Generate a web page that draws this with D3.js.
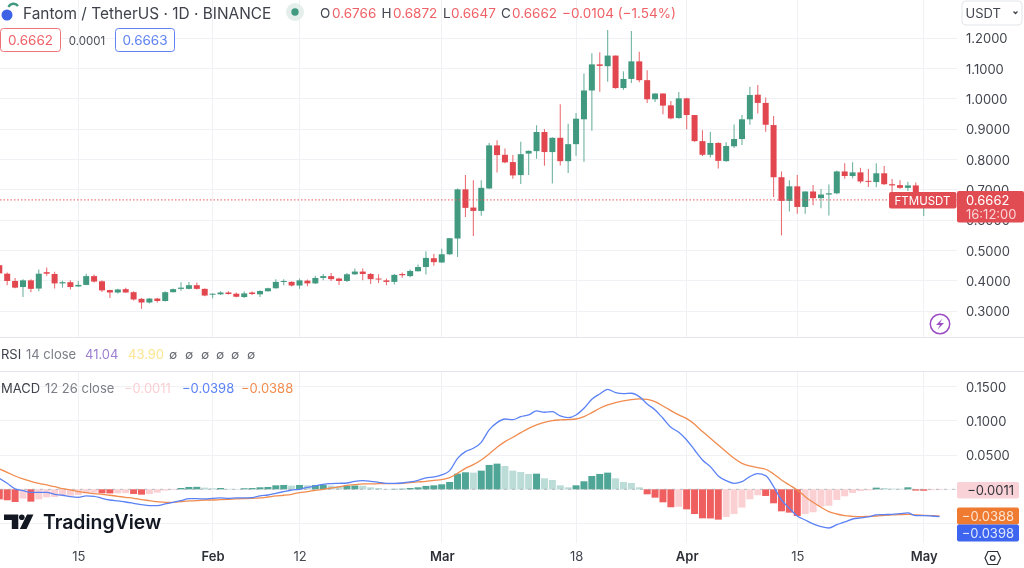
<!DOCTYPE html>
<html>
<head>
<meta charset="utf-8">
<script src="https://cdn.jsdelivr.net/npm/d3@7"></script>
<style>
  html, body { margin: 0; padding: 0; background: #fff; overflow: hidden; }
  svg { display: block; font-family: Inter, "Liberation Sans", sans-serif; filter: blur(0.35px); }
</style>
</head>
<body>
<div id="chart"></div>
<script>
const WIDTH = 1024, HEIGHT = 568;

// one candle per day, 5 Jan to 3 May 2024
const days = d3.utcDay.range(new Date(Date.UTC(2024, 0, 5)), new Date(Date.UTC(2024, 4, 4)));

const opens = [
  .451,.423,.399,.379,.401,.374,.428,.422,.391,.395,
  .381,.386,.415,.398,.369,.361,.372,.362,.340,.328,
  .341,.333,.362,.373,.373,.385,.373,.355,.355,.361,
  .357,.346,.361,.355,.365,.375,.396,.396,.384,.400,
  .391,.409,.415,.407,.399,.421,.430,.422,.407,.401,
  .396,.422,.415,.431,.445,.474,.460,.487,.539,.701,
  .641,.630,.704,.846,.815,.791,.748,.819,.827,.890,
  .824,.871,.794,.850,.932,1.027,1.113,1.107,1.142,1.035,
  1.065,1.123,1.061,.998,1.017,.978,.936,1.001,.946,.860,
  .815,.854,.794,.843,.867,.932,1.013,.986,.913,.741,
  .663,.711,.643,.694,.672,.684,.688,.760,.745,.757,
  .729,.725,.754,.718,.715,.706,.714,.662,.672,.6766
];
const highs = [
  .457,.427,.409,.405,.405,.437,.443,.429,.400,.401,
  .399,.423,.420,.401,.370,.373,.377,.365,.343,.343,
  .343,.365,.374,.395,.396,.394,.374,.358,.365,.365,
  .361,.364,.364,.368,.377,.405,.405,.398,.407,.404,
  .416,.422,.425,.410,.425,.440,.440,.425,.421,.407,
  .422,.427,.437,.453,.497,.489,.505,.541,.704,.748,
  .731,.731,.854,.863,.836,.814,.858,.829,.912,.900,
  .873,.982,.917,.953,1.083,1.150,1.153,1.226,1.142,1.090,
  1.223,1.155,1.094,1.018,1.018,.992,1.022,1.003,.946,.896,
  .891,.856,.856,.915,.946,1.039,1.045,1.004,.943,.760,
  .731,.748,.695,.715,.702,.717,.763,.787,.790,.772,
  .768,.787,.778,.735,.731,.726,.724,.687,.685,.6872
];
const lows = [
  .418,.385,.375,.346,.362,.365,.416,.374,.377,.371,
  .379,.385,.394,.363,.343,.358,.360,.335,.307,.325,
  .328,.331,.361,.367,.372,.371,.349,.342,.353,.354,
  .345,.343,.353,.346,.364,.373,.385,.381,.373,.382,
  .389,.401,.399,.386,.396,.419,.401,.389,.392,.385,
  .387,.410,.411,.430,.420,.449,.458,.485,.478,.610,
  .547,.614,.702,.757,.787,.736,.719,.748,.802,.779,
  .720,.780,.755,.812,.792,.894,1.023,1.056,1.033,1.029,
  1.052,1.054,.986,.989,.949,.932,.934,.899,.858,.811,
  .806,.770,.792,.837,.847,.914,.951,.891,.676,.549,
  .628,.621,.621,.649,.639,.615,.685,.736,.738,.721,
  .709,.708,.715,.687,.703,.696,.639,.613,.665,.6647
];
const closes = [
  .424,.399,.377,.401,.373,.423,.423,.391,.395,.379,
  .386,.415,.397,.368,.361,.371,.361,.338,.328,.341,
  .333,.362,.372,.377,.385,.373,.351,.357,.361,.356,
  .347,.358,.356,.366,.375,.396,.399,.384,.401,.391,
  .409,.415,.405,.399,.421,.430,.422,.405,.405,.396,
  .419,.418,.432,.445,.475,.461,.487,.540,.701,.640,
  .630,.706,.846,.814,.790,.747,.817,.828,.890,.824,
  .871,.794,.850,.934,1.027,1.113,1.108,1.142,1.035,1.065,
  1.123,1.061,.998,1.017,.977,.935,1.001,.946,.860,.815,
  .854,.795,.844,.867,.932,1.012,.986,.914,.741,.663,
  .711,.643,.694,.672,.684,.688,.760,.745,.757,.727,
  .726,.754,.718,.714,.706,.714,.672,.679,.677,.6662
];

const histValues = [
  -.0146,-.0160,-.0185,-.0136,-.0180,-.0146,-.0117,-.0112,-.0098,-.0092,
  -.0083,-.0058,-.0049,-.0058,-.0060,-.0058,-.0056,-.0068,-.0078,-.0068,
  -.0049,-.0019,-.0010,.0019,.0034,.0036,.0024,.0015,.0019,.0007,
  .0005,.0015,.0018,.0029,.0034,.0058,.0063,.0053,.0063,.0058,
  .0063,.0065,.0053,.0045,.0049,.0055,.0052,.0029,.0019,.0005,
  .0007,.0009,.0019,.0029,.0049,.0058,.0073,.0107,.0228,.0248,
  .0243,.0272,.0355,.0374,.0340,.0272,.0253,.0224,.0228,.0160,
  .0136,.0058,.0029,.0058,.0117,.0194,.0224,.0243,.0160,.0107,
  .0092,.0029,-.0073,-.0122,-.0190,-.0262,-.0255,-.0292,-.0360,-.0423,
  -.0425,-.0442,-.0403,-.0360,-.0267,-.0146,-.0087,-.0097,-.0204,-.0321,
  -.0340,-.0389,-.0360,-.0335,-.0253,-.0240,-.0155,-.0102,-.0053,-.0024,
  -.0015,.0024,.0019,.0010,.0008,.0029,-.0019,-.0021,-.0013,-.0011
];
const macdValues = [
  .0160,.0087,.0005,-.0019,-.0044,-.0044,-.0044,-.0073,-.0087,-.0107,
  -.0117,-.0097,-.0102,-.0131,-.0156,-.0170,-.0185,-.0204,-.0224,-.0238,
  -.0238,-.0214,-.0190,-.0165,-.0136,-.0136,-.0141,-.0131,-.0126,-.0131,
  -.0126,-.0126,-.0122,-.0097,-.0083,-.0058,-.0034,-.0010,0,.0029,
  .0049,.0073,.0083,.0087,.0092,.0117,.0126,.0117,.0102,.0087,
  .0087,.0092,.0107,.0131,.0165,.0180,.0209,.0272,.0452,.0549,
  .0598,.0685,.0865,.0972,.1025,.1016,.1059,.1084,.1142,.1123,
  .1132,.1069,.1045,.1084,.1181,.1312,.1390,.1458,.1409,.1395,
  .1400,.1351,.1244,.1157,.1035,.0904,.0831,.0719,.0573,.0428,
  .0330,.0194,.0126,.0087,.0112,.0185,.0228,.0199,.0039,-.0156,
  -.0277,-.0389,-.0447,-.0505,-.0544,-.0564,-.0515,-.0476,-.0433,-.0418,
  -.0403,-.0374,-.0369,-.0365,-.0355,-.0345,-.0384,-.0384,-.0389,-.0398
];
const signalValues = [
  .0296,.0248,.0194,.0151,.0117,.0087,.0063,.0039,.0010,-.0010,
  -.0034,-.0049,-.0063,-.0073,-.0087,-.0102,-.0117,-.0131,-.0151,-.0165,
  -.0180,-.0190,-.0190,-.0180,-.0170,-.0165,-.0156,-.0156,-.0151,-.0146,
  -.0141,-.0136,-.0131,-.0126,-.0112,-.0097,-.0087,-.0073,-.0049,-.0034,
  -.0015,0,.0019,.0034,.0058,.0068,.0078,.0078,.0083,.0083,
  .0083,.0087,.0097,.0107,.0117,.0131,.0141,.0170,.0233,.0306,
  .0360,.0428,.0515,.0612,.0695,.0758,.0826,.0889,.0938,.0977,
  .1001,.1011,.1016,.1025,.1059,.1118,.1181,.1230,.1264,.1288,
  .1307,.1317,.1312,.1278,.1215,.1147,.1084,.1030,.0948,.0841,
  .0744,.0646,.0549,.0452,.0379,.0340,.0316,.0292,.0224,.0136,
  .0063,-.0010,-.0107,-.0190,-.0262,-.0326,-.0360,-.0384,-.0394,-.0399,
  -.0394,-.0389,-.0379,-.0374,-.0369,-.0365,-.0374,-.0379,-.0384,-.0388
];

const priceTicks = [0.3, 0.4, 0.5, 0.6, 0.7, 0.8, 0.9, 1.0, 1.1, 1.2];
const macdGrid = [-0.05, 0, 0.05, 0.1, 0.15];
const macdTicks = [0.05, 0.1, 0.15];
const timeTicks = [
  [2024, 0, 15, "15"], [2024, 1, 1, "Feb"], [2024, 1, 12, "12"], [2024, 2, 1, "Mar"],
  [2024, 2, 18, "18"], [2024, 3, 1, "Apr"], [2024, 3, 15, "15"], [2024, 4, 1, "May"]
].map(([y, m, d, label]) => ({ date: new Date(Date.UTC(y, m, d)), label }));

const lastPrice = 0.6662;

const COLORS = {
  up: "#41997f", down: "#e2474f", wickUp: "#6fb3a0", wickDown: "#ea7076",
  grid: "#f0f1f4", sep: "#e3e5ea", axis: "#43464f", muted: "#7b7e87",
  histUp: "#50a696", histUpFade: "#bcdcd7", histDown: "#ef5f5f", histDownFade: "#fbd0d3",
  macd: "#5b82f5", signal: "#f08c4f"
};

const svg = d3.select("#chart").append("svg")
  .attr("width", WIDTH)
  .attr("height", HEIGHT);

svg.append("rect").attr("width", WIDTH).attr("height", HEIGHT).attr("fill", "#fff");

const AXIS_X = 956.5;
const x = d3.scaleUtc()
  .domain([timeTicks[0].date, timeTicks[7].date])
  .range([78.3, 923.7]);
const yPrice = d3.scaleLinear().domain([0.3, 1.2]).range([311, 38]);
const yMacd = d3.scaleLinear().domain([-0.05, 0.15]).range([523.6, 386.4]);

/* ---------- grid ---------- */
const grid = svg.append("g").attr("stroke", COLORS.grid).attr("shape-rendering", "crispEdges");
grid.selectAll(".v1").data(timeTicks).enter().append("line")
  .attr("x1", (d) => x(d.date)).attr("x2", (d) => x(d.date))
  .attr("y1", 0).attr("y2", 337);
grid.selectAll(".v2").data(timeTicks).enter().append("line")
  .attr("x1", (d) => x(d.date)).attr("x2", (d) => x(d.date))
  .attr("y1", 372).attr("y2", 543);
grid.selectAll(".h1").data(priceTicks).enter().append("line")
  .attr("x1", 0).attr("x2", AXIS_X)
  .attr("y1", (d) => yPrice(d)).attr("y2", (d) => yPrice(d));
grid.selectAll(".h2").data(macdGrid).enter().append("line")
  .attr("x1", 0).attr("x2", AXIS_X)
  .attr("y1", (d) => yMacd(d)).attr("y2", (d) => yMacd(d));

svg.append("g").attr("stroke", COLORS.sep).attr("shape-rendering", "crispEdges")
  .selectAll("line").data([337.5, 371.5]).enter().append("line")
  .attr("x1", 0).attr("x2", WIDTH).attr("y1", (d) => d).attr("y2", (d) => d);

/* ---------- candles ---------- */
const candles = days.map((date, i) => ({
  date, open: opens[i], high: highs[i], low: lows[i], close: closes[i]
}));
const BODY = 6;

svg.append("g").selectAll("line").data(candles).enter().append("line")
  .attr("x1", (d) => x(d.date)).attr("x2", (d) => x(d.date))
  .attr("y1", (d) => yPrice(d.high)).attr("y2", (d) => yPrice(d.low))
  .attr("stroke", (d) => (d.close >= d.open ? COLORS.wickUp : COLORS.wickDown))
  .attr("stroke-width", 1.1);

svg.append("g").selectAll("rect").data(candles).enter().append("rect")
  .attr("x", (d) => x(d.date) - BODY / 2)
  .attr("width", BODY)
  .attr("y", (d) => yPrice(Math.max(d.open, d.close)))
  .attr("height", (d) => Math.max(1, Math.abs(yPrice(d.open) - yPrice(d.close))))
  .attr("fill", (d) => (d.close >= d.open ? COLORS.up : COLORS.down));

// last price dotted line
svg.append("line")
  .attr("x1", 0).attr("x2", AXIS_X)
  .attr("y1", yPrice(lastPrice)).attr("y2", yPrice(lastPrice))
  .attr("stroke", "#ea5a60").attr("stroke-dasharray", "1.5 2");

/* ---------- macd pane ---------- */
const BAR = 7;
svg.append("g").selectAll("rect").data(histValues).enter().append("rect")
  .attr("x", (d, i) => x(days[i]) - BAR / 2)
  .attr("width", BAR)
  .attr("y", (d) => yMacd(Math.max(d, 0)))
  .attr("height", (d) => Math.abs(yMacd(d) - yMacd(0)))
  .attr("fill", (d, i) => {
    const growing = i === 0 || Math.abs(d) > Math.abs(histValues[i - 1]) || d * histValues[i - 1] < 0;
    if (d >= 0) return growing ? COLORS.histUp : COLORS.histUpFade;
    return growing ? COLORS.histDown : COLORS.histDownFade;
  });

svg.append("line")
  .attr("x1", 0).attr("x2", AXIS_X)
  .attr("y1", yMacd(0)).attr("y2", yMacd(0))
  .attr("stroke", "#9a9da6").attr("stroke-dasharray", "3 5").attr("opacity", 0.6);

const macdLine = d3.line()
  .x((d, i) => x(days[i]))
  .y((d) => yMacd(d))
  .curve(d3.curveMonotoneX);

svg.append("path").attr("d", macdLine(signalValues))
  .attr("fill", "none").attr("stroke", COLORS.signal).attr("stroke-width", 1.3);
svg.append("path").attr("d", macdLine(macdValues))
  .attr("fill", "none").attr("stroke", COLORS.macd).attr("stroke-width", 1.3);

/* ---------- axes ---------- */
function styleAxis(g) {
  g.select(".domain").remove();
  g.selectAll(".tick line").remove();
  g.selectAll("text").attr("fill", COLORS.axis).style("font-size", "13px").style("font-family", "Inter, sans-serif");
}

svg.append("g")
  .attr("transform", "translate(966,0.5)")
  .call(d3.axisRight(yPrice).tickValues(priceTicks).tickFormat(d3.format(".4f")).tickSize(0).tickPadding(0))
  .call(styleAxis);

svg.append("g")
  .attr("transform", "translate(966,0.5)")
  .call(d3.axisRight(yMacd).tickValues(macdTicks).tickFormat(d3.format(".4f")).tickSize(0).tickPadding(0))
  .call(styleAxis);

const timeAxis = svg.append("g")
  .attr("transform", "translate(0,549)")
  .call(d3.axisBottom(x).tickValues(timeTicks.map((d) => d.date))
    .tickFormat((d, i) => timeTicks[i].label).tickSize(0).tickPadding(3))
  .call(styleAxis);
timeAxis.selectAll("text")
  .attr("fill", (d, i) => (timeTicks[i].label.length === 3 ? "#2e3038" : COLORS.axis))
  .style("font-weight", (d, i) => (timeTicks[i].label.length === 3 ? 600 : 400));

/* ---------- price tags ---------- */
function tag(x0, y0, w, h, fill) {
  svg.append("rect").attr("x", x0).attr("y", y0).attr("width", w).attr("height", h)
    .attr("rx", 2).attr("fill", fill);
}
function label(txt, px, py, opts = {}) {
  return svg.append("text")
    .attr("x", px).attr("y", py)
    .attr("fill", opts.fill || COLORS.axis)
    .attr("text-anchor", opts.anchor || "start")
    .style("font-size", (opts.size || 13) + "px")
    .style("font-weight", opts.weight || 400)
    .text(txt);
}

tag(889, 192, 67.5, 16.5, "#e14b52");
label("FTMUSDT", 922.5, 204.5, { fill: "#fff", anchor: "middle", size: 11.5 });
tag(957, 191, 67, 31.5, "#e14b52");
label("0.6662", 966, 204.5, { fill: "#fff" });
label("16:12:00", 966, 219, { fill: "#f8d4d6" });

tag(957, 482, 62, 16.5, "#f8d2d6");
label("\u22120.0011", 1014, 495, { anchor: "end", fill: "#33353d" });
tag(957, 507.5, 62, 17, "#ee7b30");
label("\u22120.0388", 1014, 520.5, { anchor: "end", fill: "#fde4d2" });
tag(957, 524.5, 62, 17, "#3d65ef");
label("\u22120.0398", 1014, 537.5, { anchor: "end", fill: "#dfe6fd" });

/* ---------- header ---------- */
svg.append("circle").attr("cx", 7).attr("cy", 15).attr("r", 5.5).attr("fill", "#3d62e6");
svg.append("path").attr("d", "M8.5 7 A5.5 5.5 0 0 1 18 6").attr("fill", "none")
  .attr("stroke", "#41997f").attr("stroke-width", 2.4);

label("Fantom / TetherUS \u00b7 1D \u00b7 BINANCE", 23, 18.5, { size: 15.4, fill: "#3f424b" });

svg.append("circle").attr("cx", 295).attr("cy", 12).attr("r", 9).attr("fill", "#e4efec");
svg.append("circle").attr("cx", 295).attr("cy", 12).attr("r", 3.7).attr("fill", "#3f9a80");

const RED_TXT = "#ef6066";
const ohlcParts = [["O", 320, "0.6766", 332], ["H", 381.5, "0.6872", 393], ["L", 443, "0.6647", 451], ["C", 501, "0.6662", 512]];
ohlcParts.forEach(([k, kx, v, vx]) => {
  label(k, kx, 18, { size: 13.5 });
  label(v, vx, 18, { size: 13.5, fill: RED_TXT });
});
label("\u22120.0104 (\u22121.54%)", 562, 18, { size: 13.5, fill: RED_TXT });

svg.append("rect").attr("x", 0.5).attr("y", 28.5).attr("width", 60).attr("height", 23).attr("rx", 3)
  .attr("fill", "#fff").attr("stroke", "#ee7379");
label("0.6662", 30.5, 45, { anchor: "middle", fill: RED_TXT, size: 13.5 });
label("0.0001", 87, 44.5, { anchor: "middle", size: 11.5, fill: "#4c4f58" });
svg.append("rect").attr("x", 115.5).attr("y", 28.5).attr("width", 59).attr("height", 23).attr("rx", 3)
  .attr("fill", "#fff").attr("stroke", "#5f83f2");
label("0.6663", 145, 45, { anchor: "middle", fill: "#5f83f2", size: 13.5 });

svg.append("rect").attr("x", 962).attr("y", 1).attr("width", 60).attr("height", 24).attr("rx", 4)
  .attr("fill", "#fff").attr("stroke", "#e3e5ea");
label("USDT", 965.5, 18, { size: 13 });
svg.append("path").attr("d", "M1013.5 11.5 L1015.5 13.5 L1017.5 11.5").attr("fill", "none")
  .attr("stroke", "#43464f").attr("stroke-width", 1.3);

/* ---------- indicator legends ---------- */
label("RSI", 1, 359, { fill: "#3f424b" });
label("14 close", 26, 359, { fill: COLORS.muted });
label("41.04", 85, 359, { fill: "#9b7ed0" });
label("43.90", 128, 359, { fill: "#fbe58f" });
[173, 189, 205, 220, 235, 251].forEach((px) => {
  label("\u2205", px, 359, { anchor: "middle", size: 12, fill: "#5d6068" });
});

label("MACD", 1, 393, { fill: "#3f424b" });
label("12 26 close", 45, 393, { fill: COLORS.muted });
label("\u22120.0011", 124, 393, { fill: "#fbd0d3" });
label("\u22120.0398", 182, 393, { fill: COLORS.macd });
label("\u22120.0388", 241, 393, { fill: COLORS.signal });

/* ---------- branding + icons ---------- */
const logo = svg.append("g").attr("fill", "#131722");
logo.append("path").attr("d", "M4 514.5 H18.3 V529 H11.8 V520 H4 Z");
logo.append("circle").attr("cx", 21.8).attr("cy", 517.3).attr("r", 2.8);
logo.append("path").attr("d", "M27 514.5 H33.4 L26.6 529 H19.8 Z");
label("TradingView", 43, 528.5, { size: 19.4, weight: 600, fill: "#131722" });

svg.append("circle").attr("cx", 940).attr("cy", 324).attr("r", 9.7).attr("fill", "#fff")
  .attr("stroke", "#9b4dc4").attr("stroke-width", 1.5);
svg.append("path").attr("d", "M942.5 318.5 L936 325 H940 L937.5 329.5 L944 323 H940 Z").attr("fill", "#9b4dc4");

svg.append("path").attr("d", "M988 551.5 L997.5 551.5 L1000.5 558 L997.5 564.5 L988 564.5 L985 558 Z")
  .attr("fill", "none").attr("stroke", "#2e3038").attr("stroke-width", 1.2);
svg.append("circle").attr("cx", 992.7).attr("cy", 558).attr("r", 2.3)
  .attr("fill", "none").attr("stroke", "#2e3038").attr("stroke-width", 1.2);
</script>
</body>
</html>
